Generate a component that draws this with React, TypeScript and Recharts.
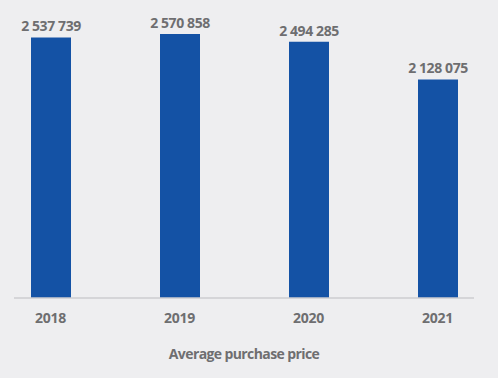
import { BarChart, Bar, XAxis, YAxis, LabelList } from "recharts";

const years = ["2018", "2019", "2020", "2021"];
const avgPrice = [2537739, 2570858, 2494285, 2128075];

const data = years.map((year, i) => ({ year, price: avgPrice[i] }));

const textColor = "#6e6e70";
const font = "'Open Sans', 'Noto Sans', sans-serif";

// non-breaking space so Recharts' Text doesn't wrap the label to bar width
function formatSpaced(value: number): string {
  return String(value).replace(/\B(?=(\d{3})+(?!\d))/g, "\u00a0");
}

export default function App() {
  return (
    <div
      style={{
        position: "fixed",
        left: 0,
        top: 0,
        width: 498,
        height: 378,
        background: "#eeeef0",
        fontFamily: font,
      }}
    >
      <BarChart
        width={498}
        height={378}
        data={data}
        margin={{ top: 31, right: 24, left: 14, bottom: 10 }}
      >
        <XAxis
          dataKey="year"
          height={70}
          padding={{ left: -28, right: -28 }}
          axisLine={{ stroke: "#cdcdd1", strokeWidth: 1.5 }}
          tickLine={false}
          tickSize={0}
          tickMargin={15}
          tick={{ fill: textColor, fontSize: 14, fontWeight: 700, fontFamily: font, letterSpacing: -0.3 }}
          label={{
            value: "Average purchase price",
            position: "insideBottom",
            offset: 9,
            fill: textColor,
            fontSize: 14,
            fontWeight: 700,
            fontFamily: font,
            letterSpacing: -0.6,
          }}
        />
        <YAxis hide domain={[0, 2600000]} />
        <Bar dataKey="price" fill="#1452a5" barSize={40} isAnimationActive={false}>
          <LabelList
            dataKey="price"
            position="top"
            offset={6}
            formatter={(v: unknown) => formatSpaced(Number(v))}
            style={{ fill: textColor, fontSize: 14, fontWeight: 700, fontFamily: font, letterSpacing: -0.4 }}
          />
        </Bar>
      </BarChart>
    </div>
  );
}
